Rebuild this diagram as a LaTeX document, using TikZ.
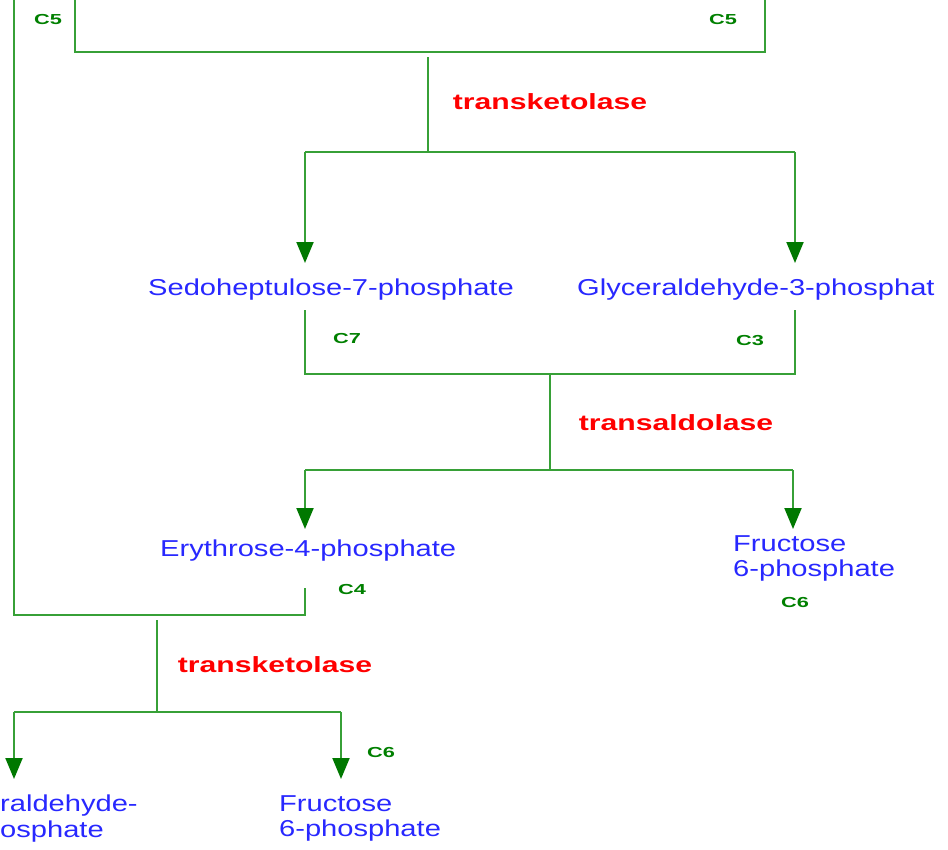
\documentclass[tikz,border=0pt]{standalone}
\usepackage{fontspec}
\setmainfont{Liberation Sans}
\newfontfamily\bluef[FakeStretch=1.265]{Liberation Sans}
\newfontfamily\redf[FakeStretch=1.37]{Liberation Sans}
\newfontfamily\greenf[FakeStretch=1.5]{Liberation Sans}
\usetikzlibrary{arrows.meta}
\definecolor{linegreen}{RGB}{55,160,55}
\definecolor{arrowgreen}{RGB}{0,120,0}
\definecolor{cgreen}{RGB}{0,128,0}
\definecolor{mblue}{RGB}{40,40,255}
\definecolor{ered}{RGB}{255,0,0}
\tikzset{
  conn/.style={draw=linegreen, line width=2pt},
  arr/.style={conn, -{Triangle[width=17pt,length=21pt,color=arrowgreen]}},
  mol/.style={inner sep=0pt, text=mblue, font=\bluef\fontsize{23}{25.5}\selectfont, align=left},
  enz/.style={inner sep=0pt, text=ered, font=\redf\bfseries\fontsize{22}{24}\selectfont},
  cnum/.style={inner sep=0pt, text=cgreen, font=\greenf\bfseries\fontsize{14.5}{16}\selectfont},
}
\begin{document}
\begin{tikzpicture}[x=1pt,y=-1pt]
\useasboundingbox (0,0) rectangle (948,849);
\fill[white] (0,0) rectangle (948,849);

% text nodes
\node[mol, anchor=base] (sedo) at (331,295) {Sedoheptulose-7-phosphate};
\node[mol, anchor=base west] (glyc) at (577,295) {Glyceraldehyde-3-phosphat};
\node[mol, anchor=base west] (ery) at (160,556) {Erythrose-4-phosphate};
\node[mol, anchor=north west] (fru1) at (733,535) {Fructose\\6-phosphate};
\node[mol, anchor=north west] (fru2) at (279,795) {Fructose\\6-phosphate};
\node[mol, anchor=north west] (gly2) at (0,795) {raldehyde-\\osphate};

\node[enz] (tk1) at (550,102) {transketolase};
\node[enz] (ta) at (676,423) {transaldolase};
\node[enz] (tk2) at (275,665) {transketolase};

\node[cnum] (c5a) at (48,20) {C5};
\node[cnum] (c5b) at (723,20) {C5};
\node[cnum] (c7) at (347,339) {C7};
\node[cnum] (c3) at (750,341) {C3};
\node[cnum] (c4) at (352,589) {C4};
\node[cnum] (c6a) at (795,602) {C6};
\node[cnum] (c6b) at (381,752) {C6};

% junction coordinates
\coordinate (lefttop) at (14,0);
\coordinate (ltop) at (75,0);
\coordinate (rtop) at (765,0);
\coordinate (j1) at (428,57);
\coordinate (j1b) at (428,152);
\coordinate (s1) at (305,152);
\coordinate (s2) at (795,152);
\coordinate (t1) at (305,263);
\coordinate (t2) at (795,263);
\coordinate (b1) at (305,310);
\coordinate (b2) at (795,310);
\coordinate (j2) at (550,374);
\coordinate (j2b) at (550,470);
\coordinate (u1) at (305,470);
\coordinate (u2) at (793,470);
\coordinate (v1) at (305,529);
\coordinate (v2) at (793,529);
\coordinate (e1) at (305,588);
\coordinate (j3) at (157,620);
\coordinate (j3b) at (157,712);
\coordinate (w1) at (14,712);
\coordinate (w2) at (341,712);
\coordinate (x1) at (14,779);
\coordinate (x2) at (341,779);

% connectors
\draw[conn] (ltop) -- (75,52) -- (765,52) -- (rtop);
\draw[conn] (j1) -- (j1b);
\draw[conn] (s1) -- (s2);
\draw[arr] (s1) -- (t1);
\draw[arr] (s2) -- (t2);
\draw[conn] (b1) -- (305,374) -- (795,374) -- (b2);
\draw[conn] (j2) -- (j2b);
\draw[conn] (u1) -- (u2);
\draw[arr] (u1) -- (v1);
\draw[arr] (u2) -- (v2);
\draw[conn] (lefttop) -- (14,615) -- (305,615) -- (e1);
\draw[conn] (j3) -- (j3b);
\draw[conn] (w1) -- (w2);
\draw[arr] (w1) -- (x1);
\draw[arr] (w2) -- (x2);
\end{tikzpicture}
\end{document}
